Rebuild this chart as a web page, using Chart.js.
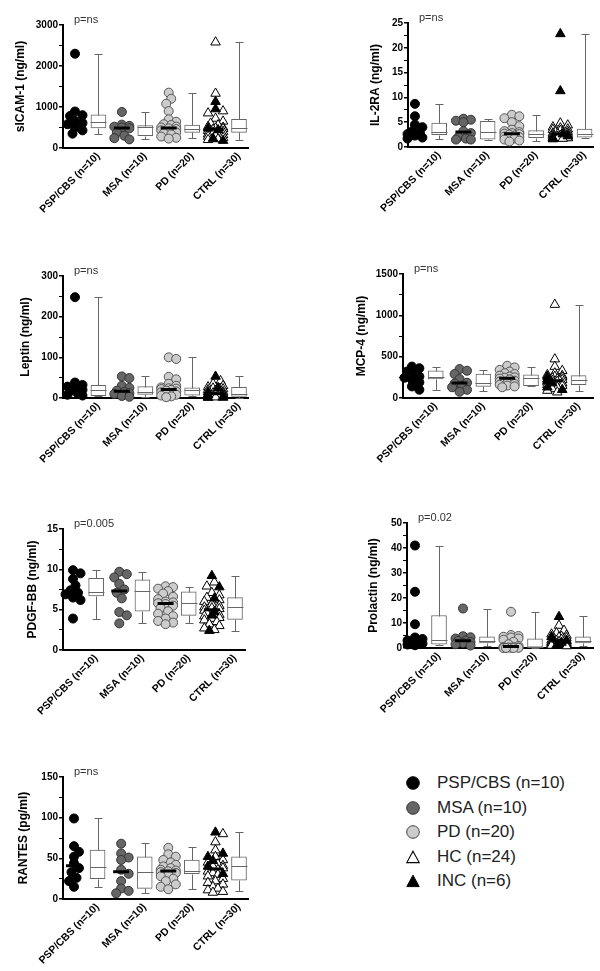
<!DOCTYPE html>
<html>
<head>
<meta charset="utf-8">
<script src="https://cdn.jsdelivr.net/npm/chart.js@4.4.1/dist/chart.umd.min.js"></script>
<style>
  body { margin: 0; background: #fff; }
  #page { position: relative; width: 600px; height: 971px; overflow: hidden; font-family: Arial, "Liberation Sans", Helvetica, sans-serif; }
  .panel { position: absolute; }
  #legend { position: absolute; left: 300px; top: 720px; width: 300px; height: 251px; }
  .mark { position: absolute; width: 14px; height: 14px; }
  .txt { position: absolute; left: 137px; font-size: 17px; line-height: 20px; color: #222; white-space: nowrap; }
</style>
</head>
<body>
<div id="page">
  <div class="panel" style="left:0;top:0"><canvas id="c0" width="300" height="240"></canvas></div>
  <div class="panel" style="left:300px;top:0"><canvas id="c1" width="300" height="240"></canvas></div>
  <div class="panel" style="left:0;top:240px"><canvas id="c2" width="300" height="230"></canvas></div>
  <div class="panel" style="left:300px;top:240px"><canvas id="c3" width="300" height="230"></canvas></div>
  <div class="panel" style="left:0;top:470px"><canvas id="c4" width="300" height="250"></canvas></div>
  <div class="panel" style="left:300px;top:470px"><canvas id="c5" width="300" height="250"></canvas></div>
  <div class="panel" style="left:0;top:720px"><canvas id="c6" width="300" height="251"></canvas></div>
  <div id="legend"></div>
</div>
<script>
// groups, axis titles, p values, y ranges
const groupLabels = ["PSP/CBS (n=10)", "MSA (n=10)", "PD (n=20)", "CTRL (n=30)"];
const legendLabels = ["PSP/CBS (n=10)", "MSA (n=10)", "PD (n=20)", "HC (n=24)", "INC (n=6)"];
const axisTitles = ["sICAM-1 (ng/ml)", "IL-2RA (ng/ml)", "Leptin (ng/ml)", "MCP-4 (ng/ml)", "PDGF-BB (ng/ml)", "Prolactin (ng/ml)", "RANTES (pg/ml)"];
const pLabels = ["p=ns", "p=ns", "p=ns", "p=ns", "p=0.005", "p=0.02", "p=ns"];
const yMaxes = [3000, 25, 300, 1500, 15, 50, 150];
const ySteps = [1000, 5, 100, 500, 5, 10, 50];

// sICAM-1
const icamPSP = [2300, 890, 800, 780, 660, 610, 580, 500, 430, 350];
const icamMSA = [880, 570, 540, 520, 500, 480, 380, 300, 240, 210];
const icamPD = [1350, 1200, 1080, 900, 700, 640, 580, 560, 520, 500, 480, 460, 430, 400, 380, 360, 330, 280, 250, 230];
const icamHC = [2580, 1330, 900, 850, 720, 650, 600, 560, 520, 500, 480, 470, 450, 420, 400, 380, 360, 340, 320, 300, 280, 250, 220, 200];
const icamINC = [1130, 950, 480, 440, 230, 180];
const icamBox = [[350, 490, 630, 810, 2300], [220, 300, 505, 545, 880], [240, 380, 470, 560, 1350], [200, 380, 480, 700, 2580]]; // min,q1,med,q3,max

// IL-2RA
const il2PSP = [8.7, 6.2, 4.5, 4.0, 3.2, 2.9, 2.6, 2.3, 1.9, 1.7];
const il2MSA = [5.7, 5.5, 5.3, 5.0, 3.2, 2.8, 2.0, 1.7, 1.5, 1.5];
const il2PD = [6.5, 6.2, 5.8, 5.0, 4.2, 3.5, 3.2, 3.0, 2.8, 2.7, 2.6, 2.5, 2.3, 2.1, 2.0, 1.9, 1.7, 1.5, 1.3, 1.1];
const il2HC = [4.8, 4.4, 4.0, 3.8, 3.6, 3.5, 3.3, 3.1, 3.0, 2.9, 2.8, 2.7, 2.6, 2.5, 2.4, 2.3, 2.2, 2.1, 2.0, 1.9, 1.9, 1.8, 1.8, 1.7];
const il2INC = [22.8, 11.3, 2.6, 2.2, 1.8, 1.6];
const il2Box = [[1.7, 2.5, 3.0, 4.8, 8.7], [1.5, 1.6, 3.0, 5.2, 5.6], [1.3, 1.9, 2.6, 3.3, 6.5], [1.8, 2.0, 2.6, 3.6, 22.8]];

// Leptin
const lepPSP = [248, 38, 32, 28, 25, 20, 17, 12, 8, 6];
const lepMSA = [53, 49, 30, 25, 18, 15, 12, 10, 5, 3];
const lepPD = [100, 96, 52, 46, 35, 30, 26, 24, 23, 22, 20, 18, 16, 14, 12, 10, 8, 6, 4, 2];
const lepHC = [42, 35, 30, 27, 24, 22, 20, 18, 15, 13, 12, 11, 10, 9, 8, 7, 6, 5, 4, 4, 3, 2, 2, 1];
const lepINC = [53, 25, 15, 8, 3, 1];
const lepBox = [[5, 6, 20, 31, 248], [3, 9, 15, 28, 53], [5, 7, 20, 25, 100], [1, 4, 10, 26, 54]];

// MCP-4
const mcpPSP = [380, 360, 320, 290, 260, 245, 220, 190, 140, 100];
const mcpMSA = [350, 330, 290, 230, 185, 175, 150, 130, 100, 75];
const mcpPD = [390, 370, 340, 320, 300, 290, 270, 260, 250, 245, 235, 225, 210, 200, 180, 170, 160, 150, 140, 130];
const mcpHC = [1130, 470, 380, 330, 300, 280, 270, 260, 250, 240, 230, 220, 210, 205, 200, 190, 180, 170, 160, 150, 130, 110, 90, 70];
const mcpINC = [260, 230, 210, 180, 130, 100];
const mcpBox = [[100, 230, 250, 330, 380], [90, 140, 180, 290, 340], [140, 150, 240, 280, 370], [80, 160, 220, 270, 1130]];

// PDGF-BB
const pdgPSP = [9.9, 9.5, 8.8, 8.0, 7.4, 7.1, 6.9, 6.5, 6.2, 3.9];
const pdgMSA = [9.7, 9.4, 9.0, 8.2, 7.5, 7.1, 6.4, 4.7, 4.3, 3.3];
const pdgPD = [7.9, 7.8, 7.6, 7.3, 7.0, 6.6, 6.3, 6.0, 5.9, 5.8, 5.7, 5.5, 5.2, 4.8, 4.5, 4.2, 3.9, 3.6, 3.4, 3.2];
const pdgHC = [8.4, 7.9, 7.1, 6.8, 6.5, 6.2, 6.0, 5.7, 5.5, 5.3, 5.2, 5.1, 4.9, 4.6, 4.4, 4.2, 4.0, 3.9, 3.7, 3.5, 3.2, 3.0, 2.7, 2.5];
const pdgINC = [9.2, 7.8, 6.4, 4.7, 4.3, 2.4];
const pdgBox = [[3.9, 6.7, 7.2, 8.9, 9.9], [3.4, 4.8, 7.3, 8.7, 9.7], [3.4, 4.3, 5.8, 7.2, 7.8], [2.4, 3.8, 5.3, 6.5, 9.2]];

// Prolactin
const prlPSP = [41, 22.5, 9.5, 4.2, 3.6, 3.0, 2.4, 1.8, 1.4, 1.1];
const prlMSA = [15.8, 4.7, 4.3, 3.8, 3.0, 2.8, 2.4, 2.0, 1.5, 1.0];
const prlPD = [14.5, 5.2, 4.8, 4.5, 4.2, 3.8, 3.3, 2.5, 1.5, 0.8, 0.4, 0.3, 0.2, 0.2, 0.1, 0.1, 0.1, 0, 0, 0];
const prlHC = [9.0, 7.0, 6.0, 5.5, 5.0, 4.6, 4.3, 4.0, 3.7, 3.4, 3.1, 2.9, 2.7, 2.5, 2.3, 2.1, 2.0, 1.8, 1.6, 1.5, 1.3, 1.2, 1.0, 0.8];
const prlINC = [12.5, 4.5, 3.0, 2.2, 1.5, 1.0];
const prlBox = [[1.1, 1.5, 3.3, 13, 41], [1.0, 2.0, 3.0, 4.5, 15.8], [0, 0, 0.3, 3.7, 14.5], [1.0, 2.0, 2.8, 4.5, 13]];

// RANTES
const ranPSP = [99, 65, 58, 52, 44, 38, 33, 26, 22, 15];
const ranMSA = [68, 56, 51, 48, 36, 31, 22, 13, 10, 7];
const ranPD = [63, 55, 52, 48, 45, 42, 40, 38, 36, 35, 34, 33, 32, 30, 28, 25, 22, 18, 15, 12];
const ranHC = [80, 70, 60, 52, 48, 45, 43, 41, 40, 38, 36, 34, 32, 30, 28, 25, 22, 20, 18, 15, 13, 11, 9, 8];
const ranINC = [82, 56, 52, 47, 40, 31];
const ranBox = [[15, 25, 39, 60, 99], [7, 13, 33, 52, 69], [12, 31, 35, 48, 64], [10, 23, 40, 52, 82]];

const panels = [
  [icamPSP, icamMSA, icamPD, icamHC, icamINC, icamBox],
  [il2PSP, il2MSA, il2PD, il2HC, il2INC, il2Box],
  [lepPSP, lepMSA, lepPD, lepHC, lepINC, lepBox],
  [mcpPSP, mcpMSA, mcpPD, mcpHC, mcpINC, mcpBox],
  [pdgPSP, pdgMSA, pdgPD, pdgHC, pdgINC, pdgBox],
  [prlPSP, prlMSA, prlPD, prlHC, prlINC, prlBox],
  [ranPSP, ranMSA, ranPD, ranHC, ranINC, ranBox]
];

// layout of each canvas (px, canvas-local)
const layouts = [
  { w: 300, h: 240, left: 63, top: 25, right: 248, bottom: 148, first: 75, last: 239, titleX: 21 },
  { w: 300, h: 240, left: 108, top: 23, right: 295, bottom: 147, first: 115, last: 286, titleX: 76 },
  { w: 300, h: 230, left: 63, top: 36, right: 248, bottom: 158, first: 75, last: 239, titleX: 26 },
  { w: 300, h: 230, left: 103, top: 34, right: 295, bottom: 158, first: 112, last: 280, titleX: 62 },
  { w: 300, h: 250, left: 63, top: 59, right: 245, bottom: 180, first: 73, last: 235, titleX: 33 },
  { w: 300, h: 250, left: 107, top: 53, right: 293, bottom: 178, first: 115, last: 283, titleX: 74 },
  { w: 300, h: 251, left: 63, top: 57, right: 248, bottom: 179, first: 74, last: 239, titleX: 24 }
];

const scatterPos = [0, 2, 4, 6];
const boxPos = [1, 3, 5, 7];
const seriesCol = [0, 1, 2, 3, 3];
const seriesStyle = [
  { style: "circle", r: 4.5, bg: "#000", border: "#000" },
  { style: "circle", r: 4.5, bg: "#666", border: "#333" },
  { style: "circle", r: 4.5, bg: "#ccc", border: "#555" },
  { style: "triangle", r: 5.5, bg: "#fff", border: "#000" },
  { style: "triangle", r: 5.5, bg: "#000", border: "#000" }
];

Chart.defaults.font.family = 'Arial, "Liberation Sans", Helvetica, sans-serif';

function median(arr) {
  const s = [...arr].sort((a, b) => a - b);
  const m = Math.floor(s.length / 2);
  return s.length % 2 ? s[m] : (s[m - 1] + s[m]) / 2;
}

// simple beeswarm: side-by-side offsets (px) so dots don't pile up
function swarm(values, pxPerY) {
  const diam = 6.5, step = 2.5, maxOff = 7.5;
  const placed = [];
  const offs = new Array(values.length).fill(0);
  const order = values.map((v, i) => i).sort((a, b) => values[b] - values[a]);
  const n = Math.floor(maxOff / step);
  for (const i of order) {
    const y = values[i] * pxPerY;
    let best = 0, bestOverlap = Infinity;
    for (let k = 0; k <= 2 * n; k++) {
      const off = (k % 2 ? 1 : -1) * Math.ceil(k / 2) * step;
      let overlap = 0;
      for (const p of placed) {
        const d = Math.hypot(p.x - off, p.y - y);
        if (d < diam) overlap += diam - d;
      }
      if (overlap < bestOverlap - 1e-9) { bestOverlap = overlap; best = off; }
      if (overlap === 0) break;
    }
    placed.push({ x: best, y: y });
    offs[i] = best;
  }
  return offs;
}

const boxPlugin = {
  id: "boxExtras",
  afterDatasetsDraw(chart, args, opts) {
    const { ctx, chartArea } = chart;
    const x = chart.scales.x, y = chart.scales.y;
    ctx.save();
    // whiskers + box medians
    ctx.strokeStyle = "#666";
    ctx.lineWidth = 1;
    ctx.beginPath();
    opts.boxes.forEach((b, i) => {
      const cx = Math.round(x.getPixelForValue(boxPos[i])) + 0.5;
      const [mn, q1, md, q3, mx] = b.map(v => Math.round(y.getPixelForValue(v)) + 0.5);
      ctx.moveTo(cx, q3); ctx.lineTo(cx, mx);
      ctx.moveTo(cx - 4, mx); ctx.lineTo(cx + 4, mx);
      ctx.moveTo(cx, q1); ctx.lineTo(cx, mn);
      ctx.moveTo(cx - 4, mn); ctx.lineTo(cx + 4, mn);
      ctx.moveTo(cx - 8, md); ctx.lineTo(cx + 8, md);
    });
    ctx.stroke();
    // scatter medians
    ctx.strokeStyle = "#000";
    ctx.lineWidth = 3;
    ctx.beginPath();
    opts.medians.forEach((m, i) => {
      const cx = x.getPixelForValue(scatterPos[i]);
      const py = y.getPixelForValue(m);
      ctx.moveTo(cx - 8, py); ctx.lineTo(cx + 8, py);
    });
    ctx.stroke();
    // p value
    ctx.fillStyle = "#333";
    ctx.font = '11px Arial, "Liberation Sans", sans-serif';
    ctx.textBaseline = "middle";
    ctx.fillText(opts.pText, chartArea.left + 11, chartArea.top - 5);
    ctx.restore();
  }
};

panels.forEach((pd, k) => {
  const L = layouts[k];
  const yMax = yMaxes[k], yStep = ySteps[k];
  const pxPerX = (L.last - L.first) / 7;
  const pxPerY = (L.bottom - L.top) / yMax;
  const xMin = -(L.first - L.left) / pxPerX;
  const xMax = 7 + (L.right - L.last) / pxPerX;
  const boxes = pd[5];

  // column values (CTRL = HC + INC)
  const cols = [pd[0], pd[1], pd[2], pd[3].concat(pd[4])];
  const colOffs = cols.map(c => swarm(c, pxPerY));
  const medians = cols.map(median);

  const datasets = [{
    type: "bar",
    data: boxes.map((b, i) => ({ x: boxPos[i], y: [b[1], b[3]] })),
    backgroundColor: "#fff",
    borderColor: "#666",
    borderWidth: 1,
    borderSkipped: false,
    barThickness: 15,
    order: 10
  }];

  for (let s = 0; s < 5; s++) {
    const col = seriesCol[s];
    const start = s === 4 ? pd[3].length : 0;
    const st = seriesStyle[s];
    datasets.push({
      type: "scatter",
      label: legendLabels[s],
      data: pd[s].map((v, i) => ({ x: scatterPos[col] + colOffs[col][start + i] / pxPerX, y: v })),
      pointStyle: st.style,
      pointRadius: st.r,
      backgroundColor: st.bg,
      borderColor: st.border,
      borderWidth: 1,
      clip: false,
      order: 5 - s
    });
  }

  new Chart(document.getElementById("c" + k), {
    type: "scatter",
    data: { datasets: datasets },
    options: {
      responsive: false,
      animation: false,
      events: [],
      layout: { padding: { top: L.top, right: L.w - L.right, left: 0, bottom: 0 } },
      plugins: {
        legend: { display: false },
        tooltip: { enabled: false },
        boxExtras: { boxes: boxes, medians: medians, pText: pLabels[k] }
      },
      scales: {
        x: {
          type: "linear",
          min: xMin,
          max: xMax,
          offset: false,
          afterBuildTicks: s => { s.ticks = boxPos.map(v => ({ value: v })); },
          ticks: {
            autoSkip: false,
            minRotation: 45,
            maxRotation: 45,
            padding: 2,
            color: "#000",
            font: { size: 10.5, weight: "bold" },
            callback: v => groupLabels[boxPos.indexOf(v)]
          },
          grid: { display: false, drawTicks: false, tickLength: 0 },
          border: { display: true, color: "#000", width: 2 },
          afterFit: s => { s.height = L.h - L.bottom; s.paddingLeft = 0; s.paddingRight = 0; }
        },
        y: {
          type: "linear",
          min: 0,
          max: yMax,
          afterBuildTicks: s => {
            const t = [];
            for (let j = 0; j <= 2 * yMax / yStep + 1e-9; j++) {
              t.push({ value: j * yStep / 2, major: j % 2 === 0 });
            }
            s.ticks = t;
          },
          ticks: {
            autoSkip: false,
            padding: 1,
            color: "#000",
            font: { size: 10, weight: "bold" },
            callback: (v, i, ticks) => (ticks[i].major ? String(v) : "")
          },
          grid: {
            drawOnChartArea: false,
            drawTicks: true,
            tickLength: 4,
            color: "#000",
            lineWidth: c => (c.tick && c.tick.major ? 1.5 : 1)
          },
          border: { display: true, color: "#000", width: 2 },
          title: {
            display: true,
            text: axisTitles[k],
            color: "#000",
            font: { size: 12, weight: "bold" },
            padding: { top: L.titleX - 7.2, bottom: 0 }
          },
          afterFit: s => { s.width = L.left; s.paddingTop = 0; s.paddingBottom = 0; }
        }
      }
    },
    plugins: [boxPlugin]
  });
});

// legend (HTML)
const legendRows = [63, 88, 112, 137, 161];
const legendSvg = [
  '<svg class="mark" viewBox="0 0 14 14"><circle cx="7" cy="7" r="6.3" fill="#000" stroke="#000" stroke-width="1"/></svg>',
  '<svg class="mark" viewBox="0 0 14 14"><circle cx="7" cy="7" r="6.3" fill="#666" stroke="#333" stroke-width="1"/></svg>',
  '<svg class="mark" viewBox="0 0 14 14"><circle cx="7" cy="7" r="6.3" fill="#ccc" stroke="#444" stroke-width="1"/></svg>',
  '<svg class="mark" viewBox="0 0 14 14"><polygon points="7,1.2 13.2,12.6 0.8,12.6" fill="#fff" stroke="#000" stroke-width="1.1"/></svg>',
  '<svg class="mark" viewBox="0 0 14 14"><polygon points="7,1.2 13.2,12.6 0.8,12.6" fill="#000" stroke="#000" stroke-width="1"/></svg>'
];
const legendEl = document.getElementById("legend");
legendLabels.forEach((lab, i) => {
  const cy = legendRows[i];
  const m = document.createElement("div");
  m.innerHTML = legendSvg[i];
  const svg = m.firstChild;
  svg.style.left = (113 - 7) + "px";
  svg.style.top = (cy - 7) + "px";
  legendEl.appendChild(svg);
  const t = document.createElement("div");
  t.className = "txt";
  t.style.top = (cy - 10) + "px";
  t.textContent = lab;
  legendEl.appendChild(t);
});
</script>
</body>
</html>
